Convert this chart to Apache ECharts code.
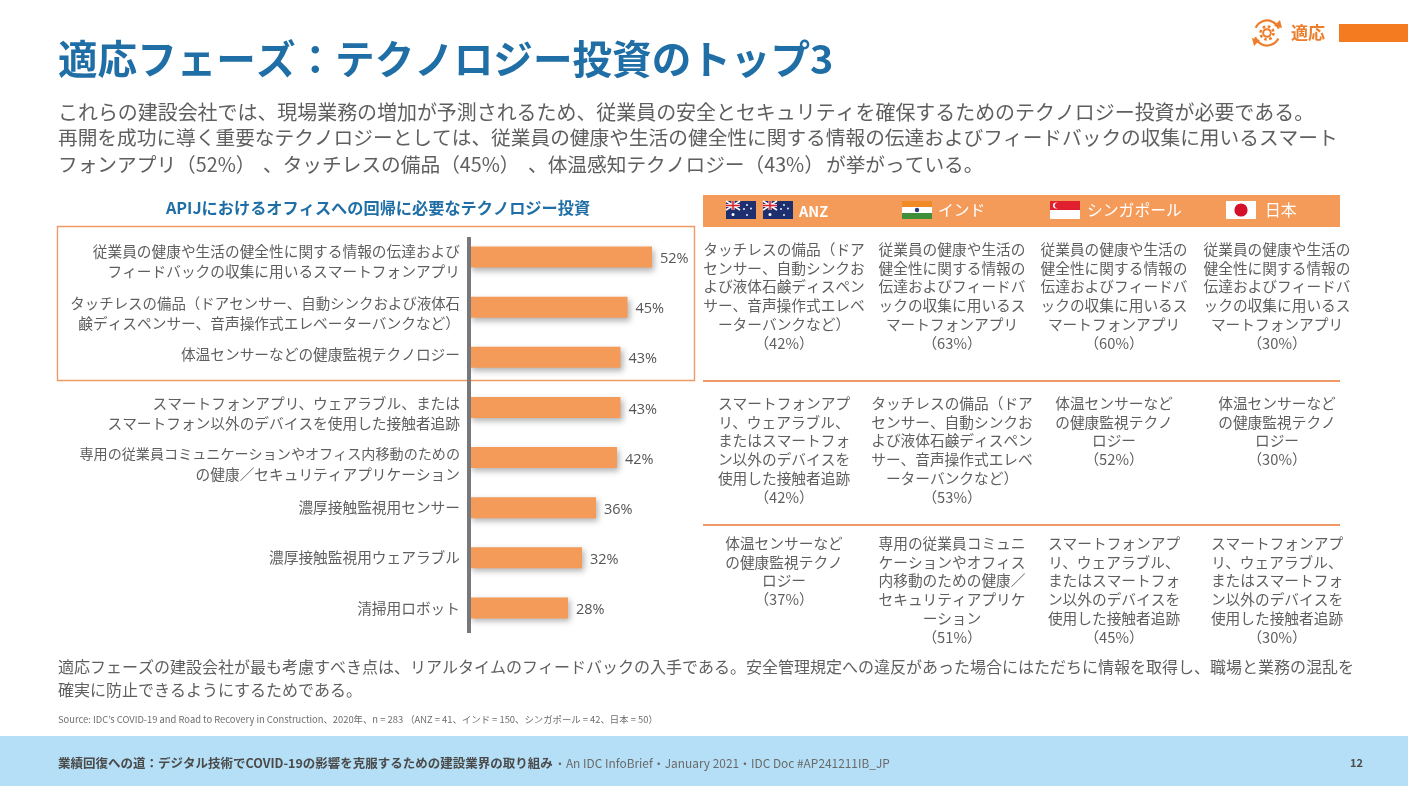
<!DOCTYPE html>
<html><head><meta charset="utf-8">
<style>html,body{margin:0;padding:0;background:#fff}#c{width:1408px;height:786px}</style>
<script src="https://cdn.jsdelivr.net/npm/echarts@6/dist/echarts.min.js"></script>
</head><body><div id="c"></div>
<script>
const categories = [
 '従業員の健康や生活の健全性に関する情報の伝達および\nフィードバックの収集に用いるスマートフォンアプリ',
 'タッチレスの備品（ドアセンサー、自動シンクおよび液体石\n鹸ディスペンサー、音声操作式エレベーターバンクなど）',
 '体温センサーなどの健康監視テクノロジー',
 'スマートフォンアプリ、ウェアラブル、または\nスマートフォン以外のデバイスを使用した接触者追跡',
 '専用の従業員コミュニケーションやオフィス内移動のための\nの健康／セキュリティアプリケーション',
 '濃厚接触監視用センサー',
 '濃厚接触監視用ウェアラブル',
 '清掃用ロボット'
];
const values = [52,45,43,43,42,36,32,28];
const titleText = '適応フェーズ：テクノロジー投資のトップ3';
const introLine1 = 'これらの建設会社では、現場業務の増加が予測されるため、従業員の安全とセキュリティを確保するためのテクノロジー投資が必要である。';
const introLine2 = '再開を成功に導く重要なテクノロジーとしては、従業員の健康や生活の健全性に関する情報の伝達およびフィードバックの収集に用いるスマート';
const introLine3 = ['フォンアプリ（52%）','、タッチレスの備品（45%）','、体温感知テクノロジー（43%）','が挙がっている。'];
const chartHeading = 'APIJにおけるオフィスへの回帰に必要なテクノロジー投資';
const outroLines = [
 '適応フェーズの建設会社が最も考慮すべき点は、リアルタイムのフィードバックの入手である。安全管理規定への違反があった場合にはただちに情報を取得し、職場と業務の混乱を',
 '確実に防止できるようにするためである。'
];
const sourceText = 'Source: IDC’s COVID-19 and Road to Recovery in Construction、2020年、n = 283 （ANZ = 41、インド = 150、シンガポール = 42、日本 = 50）';
const footerBold = '業績回復への道：デジタル技術でCOVID-19の影響を克服するための建設業界の取り組み';
const footerLight = '・An IDC InfoBrief・January 2021・IDC Doc #AP241211IB_JP';
const pageNo = '12';
const phaseLabel = '適応';
const headers = ['ANZ','インド','シンガポール','日本'];
const col1 = [
 'タッチレスの備品（ドア\nセンサー、自動シンクお\nよび液体石鹸ディスペン\nサー、音声操作式エレベ\nーターバンクなど）\n（42%）',
 'スマートフォンアプ\nリ、ウェアラブル、\nまたはスマートフォ\nン以外のデバイスを\n使用した接触者追跡\n（42%）',
 '体温センサーなど\nの健康監視テクノ\nロジー\n（37%）'];
const col2 = [
 '従業員の健康や生活の\n健全性に関する情報の\n伝達およびフィードバ\nックの収集に用いるス\nマートフォンアプリ\n（63%）',
 'タッチレスの備品（ドア\nセンサー、自動シンクお\nよび液体石鹸ディスペン\nサー、音声操作式エレベ\nーターバンクなど）\n（53%）',
 '専用の従業員コミュニ\nケーションやオフィス\n内移動のための健康／\nセキュリティアプリケ\nーション\n（51%）'];
const col3 = [
 '従業員の健康や生活の\n健全性に関する情報の\n伝達およびフィードバ\nックの収集に用いるス\nマートフォンアプリ\n（60%）',
 '体温センサーなど\nの健康監視テクノ\nロジー\n（52%）',
 'スマートフォンアプ\nリ、ウェアラブル、\nまたはスマートフォ\nン以外のデバイスを\n使用した接触者追跡\n（45%）'];
const col4 = [
 '従業員の健康や生活の\n健全性に関する情報の\n伝達およびフィードバ\nックの収集に用いるス\nマートフォンアプリ\n（30%）',
 '体温センサーなど\nの健康監視テクノ\nロジー\n（30%）',
 'スマートフォンアプ\nリ、ウェアラブル、\nまたはスマートフォ\nン以外のデバイスを\n使用した接触者追跡\n（30%）'];

const JP = '"Noto Sans CJK JP","Noto Sans",sans-serif';
const BLUE = '#1f6fa6', GRAY = '#5f5f5f', ORANGE = '#f59b5a', LINE = '#ee9a66';
const g = [];
function T(x,y,text,size,fill,opt){ opt=opt||{};
  g.push({type:'text',silent:true,z:10,style:{x,y,text,fontSize:size,fontFamily:opt.family||JP,fontWeight:opt.weight||'normal',fill,
    textAlign:opt.align||'left',textVerticalAlign:opt.valign||'middle',lineHeight:opt.lh||undefined}});
}
function R(x,y,w,h,fill,z){ g.push({type:'rect',silent:true,z:z||2,shape:{x,y,width:w,height:h},style:{fill}}); }
function L(x1,y1,x2,y2,stroke,w,z){ g.push({type:'line',silent:true,z:z||3,shape:{x1,y1,x2,y2},style:{stroke,lineWidth:w}}); }

// page furniture
R(0,736,1408,50,'#b5dff6',1);
R(1339,24,69,18,'#f47b20');
T(58,59,titleText,39.6,BLUE,{weight:'bold'});
T(58,112,introLine1,19.95,GRAY);
T(58,138,introLine2,19.7,GRAY);
introLine3.forEach((s,i)=>T([58,263,528,826][i],165,s,19.7,GRAY));
T(378,208,chartHeading,16.2,BLUE,{weight:'bold',align:'center'});
outroLines.forEach((s,i)=>T(58,[667,690][i],s,16,GRAY));
T(58,719,sourceText,9.4,'#6e6e6e');
T(58,763,footerBold,12.5,'#4a4a4a',{weight:'bold'});
T(554,763,footerLight,11.9,'#6a6a6a');
T(1350,763,pageNo,11,'#4a4a4a',{weight:'bold'});
T(1291,33,phaseLabel,17,'#ee7d2b',{weight:'bold'});

// phase icon
const IC='#ee7d2b';
g.push({type:'arc',silent:true,z:5,shape:{cx:1267,cy:33,r:12.5,startAngle:-2.7,endAngle:-0.35},style:{stroke:IC,fill:'none',lineWidth:2.2}});
g.push({type:'arc',silent:true,z:5,shape:{cx:1267,cy:33,r:12.5,startAngle:0.45,endAngle:2.8},style:{stroke:IC,fill:'none',lineWidth:2.2}});
g.push({type:'polygon',silent:true,z:5,shape:{points:[[1274,26],[1282,28],[1280,20]]},style:{fill:IC}});
g.push({type:'polygon',silent:true,z:5,shape:{points:[[1260,40],[1252,38],[1254,46]]},style:{fill:IC}});
g.push({type:'circle',silent:true,z:5,shape:{cx:1267,cy:33,r:3.8},style:{stroke:IC,fill:'#fff',lineWidth:2}});
g.push({type:'circle',silent:true,z:4,shape:{cx:1267,cy:33,r:6.5},style:{stroke:IC,fill:'none',lineWidth:2.6,lineDash:[2.6,2.5]}});

// chart frame + axis rule
g.push({type:'rect',silent:true,z:3,shape:{x:57.5,y:226.5,width:637,height:154},style:{fill:'none',stroke:LINE,lineWidth:1.4}});
R(467,237,4,396,'#77787b',8);

// table
R(703,195,637,32,ORANGE);
L(703,381,1340,381,LINE,2);
L(703,525,1340,525,LINE,2);
const colX=[784,952,1114,1277];
const rowY=[240,394,534];
[col1,col2,col3,col4].forEach((col,c)=>col.forEach((s,r)=>T(colX[c],rowY[r],s,14.7,GRAY,{align:'center',valign:'top',lh:18.75})));

// header flags
function AU(x,y){
  R(x,y,30,18,'#1d2f6f',4);
  L(x,y,x+14,y+9,'#fff',1.6,5); L(x+14,y,x,y+9,'#fff',1.6,5);
  R(x+5.5,y,3,9,'#fff',5); R(x,y+3,14,3,'#fff',5);
  R(x+6.2,y,1.6,9,'#d8202f',6); R(x,y+3.7,14,1.6,'#d8202f',6);
  [[7,13.5,1.5],[21,4,.9],[25,7.5,.9],[21,14,.9],[18,8,.9]].forEach(p=>g.push({type:'circle',silent:true,z:6,shape:{cx:x+p[0],cy:y+p[1],r:p[2]},style:{fill:'#fff'}}));
}
AU(726,201); AU(763,201);
T(799,211,headers[0],14.5,'#fff',{weight:'bold'});
R(902,201,30,6,'#f08a24',4); R(902,207,30,6,'#fff',4); R(902,213,30,6,'#3f8f3a',4);
g.push({type:'circle',silent:true,z:5,shape:{cx:917,cy:210,r:2.2},style:{fill:'#2b3a80'}});
T(938,210,headers[1],15.8,'#fff');
R(1050,201,30,9,'#e0202f',4); R(1050,210,30,9,'#fff',4);
g.push({type:'circle',silent:true,z:5,shape:{cx:1056,cy:205.5,r:3},style:{fill:'#fff'}});
g.push({type:'circle',silent:true,z:6,shape:{cx:1057.5,cy:205.5,r:2.8},style:{fill:'#e0202f'}});
T(1087,210,headers[2],15.8,'#fff');
R(1226,201,30,18,'#fff',4);
g.push({type:'circle',silent:true,z:5,shape:{cx:1241,cy:210,r:6.6},style:{fill:'#d3122a'}});
T(1265,210,headers[3],15.8,'#fff');

// category labels: rich text, with a spacer line that nudges the block up or down
const labelNudge = [4.5,6,-3,5.5,6.5,0,0,0];
const firstLineStyle = ['b','m','b','b','t','b','b','b'];
const rich = {
  b:{fontSize:14.7,fontFamily:JP,color:GRAY,lineHeight:20},
  m:{fontSize:14.45,fontFamily:JP,color:GRAY,lineHeight:20},
  t:{fontSize:14.1,fontFamily:JP,color:GRAY,lineHeight:20}
};
labelNudge.forEach((n,i)=>{ rich['g'+i]={fontSize:1,lineHeight:Math.abs(n)*2,color:'transparent'}; });
function labelFormatter(value){
  const i=categories.indexOf(value), n=labelNudge[i];
  const lines=value.split('\n').map((s,k)=>`{${k===0?firstLineStyle[i]:'b'}|${s}}`);
  if(n>0) lines.unshift(`{g${i}|.}`);
  if(n<0) lines.push(`{g${i}|.}`);
  return lines.join('\n');
}

const chart = echarts.init(document.getElementById('c'),null,{renderer:'canvas'});
chart.setOption({
  animation:false,
  backgroundColor:'#fff',
  grid:{left:470,top:232,width:350,height:401,containLabel:false},
  xAxis:{type:'value',min:0,max:100,show:false},
  yAxis:{type:'category',inverse:true,data:categories,
    axisLine:{show:false},axisTick:{show:false},
    axisLabel:{color:GRAY,fontFamily:JP,align:'right',margin:10,interval:0,formatter:labelFormatter,rich}},
  series:[{type:'bar',data:values,barWidth:21,z:5,
    itemStyle:{color:ORANGE,shadowColor:'rgba(60,60,60,0.4)',shadowBlur:6,shadowOffsetX:2,shadowOffsetY:3},
    label:{show:true,position:'right',distance:8,offset:[0,2],formatter:'{c}%',color:'#555',fontSize:14.5,fontFamily:'"Open Sans",sans-serif'}}],
  graphic:{elements:g}
});
</script></body></html>
